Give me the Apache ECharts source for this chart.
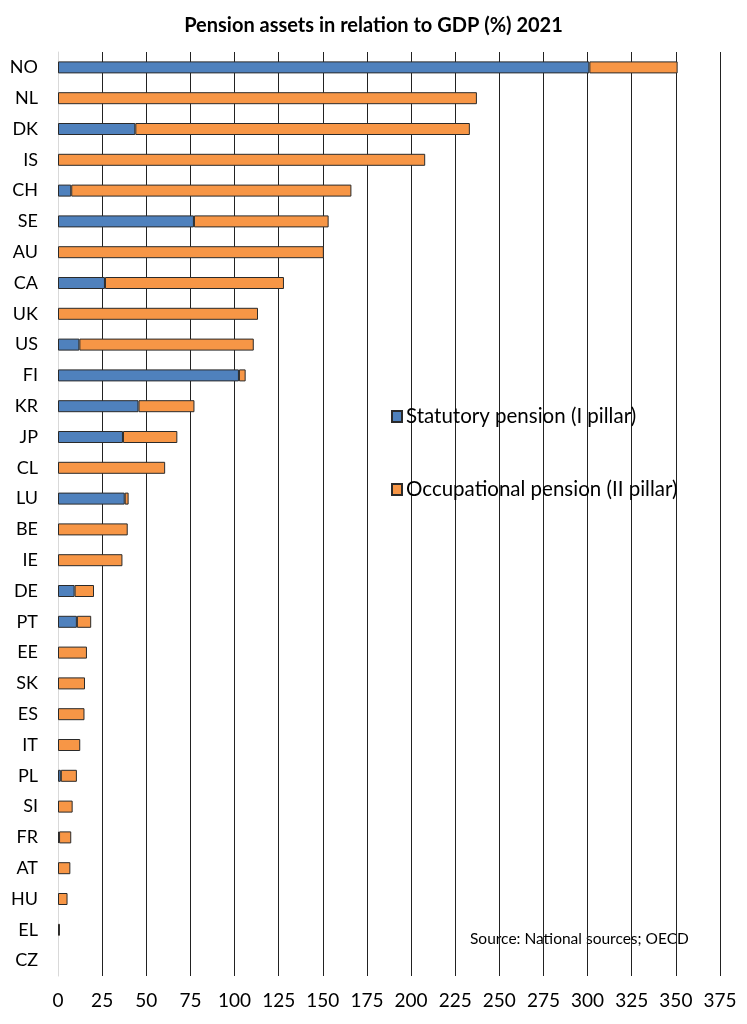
<!DOCTYPE html>
<html>
<head>
<meta charset="utf-8">
<script src="https://cdn.jsdelivr.net/npm/echarts@6/dist/echarts.min.js"></script>
<style>html,body{margin:0;padding:0;background:#fff}#c{width:747px;height:1024px}</style>
</head>
<body>
<div id="c"></div>
<script>
var categories = ['NO','NL','DK','IS','CH','SE','AU','CA','UK','US','FI','KR','JP','CL','LU','BE','IE','DE','PT','EE','SK','ES','IT','PL','SI','FR','AT','HU','EL','CZ'];
var statutory = [301, null, 43.8, null, 7.5, 77, null, 26.6, null, 12.1, 102.5, 45.6, 36.8, null, 37.8, null, null, 9.4, 10.7, null, null, null, null, 1.6, null, 0.6, null, null, null, null];
var occupational = [50, 237.3, 189.5, 208, 158.7, 76.3, 150.6, 101.4, 113.3, 98.8, 3.8, 31.7, 30.8, 60.7, 2.2, 39.5, 36.5, 11, 8.1, 16.4, 15.3, 15, 12.6, 9.1, 8.3, 6.9, 7, 5.4, 1.1, null];
var xTicks = [0,25,50,75,100,125,150,175,200,225,250,275,300,325,350,375];

var font = 'Lato, "Open Sans", sans-serif';
var chart = echarts.init(document.getElementById('c'));
chart.setOption({
  animation: false,
  backgroundColor: '#fff',
  title: {
    text: 'Pension assets in relation to GDP (%) 2021',
    left: 'center', top: 11,
    textStyle: {fontFamily: font, fontSize: 20, fontWeight: 'bold', color: '#000'}
  },
  legend: {
    orient: 'vertical', left: 386, top: 401,
    itemWidth: 10, itemHeight: 11, itemGap: 52,
    icon: 'rect',
    textStyle: {fontFamily: font, fontSize: 20.5, color: '#000', padding: [0,0,0,-1]},
    data: ['Statutory pension (I pillar)', 'Occupational pension (II pillar)']
  },
  grid: {left: 58, right: 27, top: 52, bottom: 48, containLabel: false},
  xAxis: {
    type: 'value', min: xTicks[0], max: xTicks[xTicks.length-1], interval: 25,
    axisLine: {show: false}, axisTick: {show: false},
    axisLabel: {fontFamily: font, fontSize: 19, color: '#000', margin: 15},
    splitLine: {show: true, lineStyle: {color: '#222', width: 1}}
  },
  yAxis: {
    type: 'category', data: categories, inverse: true,
    axisLine: {show: true, lineStyle: {color: '#d9d9d9'}}, axisTick: {show: false},
    axisLabel: {fontFamily: font, fontSize: 18, color: '#000', margin: 20}
  },
  series: [
    {
      name: 'Statutory pension (I pillar)', type: 'bar', stack: 't', barWidth: 12,
      data: statutory,
      itemStyle: {color: '#4F81BD', borderColor: '#2a2a2a', borderWidth: 1}
    },
    {
      name: 'Occupational pension (II pillar)', type: 'bar', stack: 't', barWidth: 12,
      data: occupational,
      itemStyle: {color: '#F79646', borderColor: '#2a2a2a', borderWidth: 1}
    }
  ],
  graphic: [{
    type: 'text', left: 470, top: 931,
    style: {text: 'Source: National sources; OECD', fontFamily: font, fontSize: 15.5, fill: '#000'}
  }]
});
</script>
</body>
</html>
